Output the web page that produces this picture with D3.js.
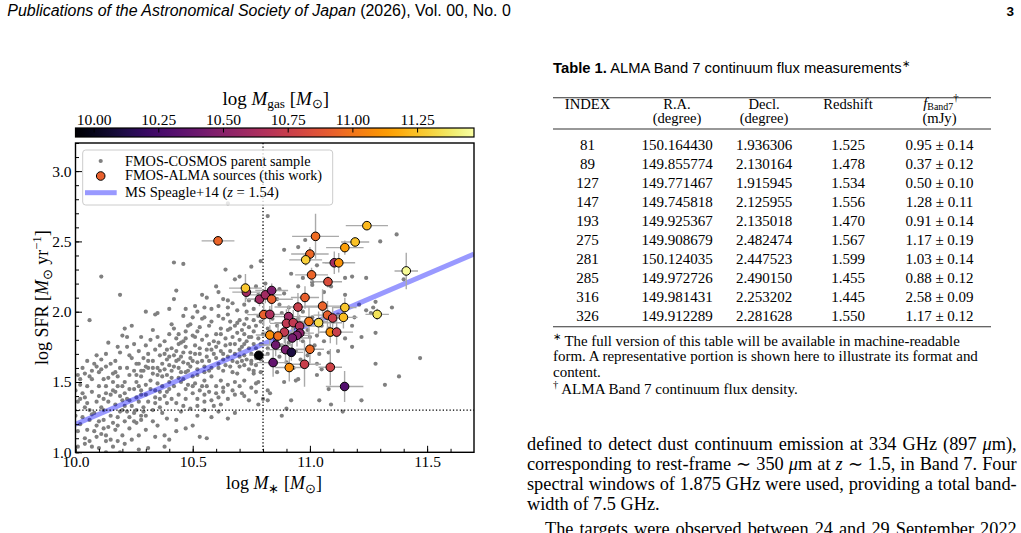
<!DOCTYPE html>
<html><head><meta charset="utf-8">
<script src="https://cdn.jsdelivr.net/npm/d3@7"></script>
<style>html,body{margin:0;padding:0;background:#fff;} svg{display:block;}</style>
</head><body>
<svg id="page" width="1021" height="533"></svg>
<script>
// ---------------- DATA ----------------
const massDomain = [10.0, 11.7];
const sfrDomain = [1.0, 3.2];
const gasDomain = [9.93, 11.47];
const massTicks = [10.0, 10.5, 11.0, 11.5];
const sfrTicks = [1.0, 1.5, 2.0, 2.5, 3.0];
const gasTicks = [10.00, 10.25, 10.50, 10.75, 11.00, 11.25];
const cutMass = [10.8];
const cutSFR = [1.3];
// Speagle+14 main sequence (z = 1.54), endpoints
const msMass = [10.0, 11.7];
const msSFR = [1.20, 2.41];

// FMOS-COSMOS parent sample [log M*, log SFR]
const parentSample = [
[10.06,1.94],[10.34,1.98],[10.46,1.97],[10.52,2.00],[10.41,1.91],[10.49,1.91],[10.54,1.95],[10.57,1.90],[10.61,1.97],[10.65,1.98],[10.66,1.93],[10.68,1.90],[10.70,1.94],[10.72,1.91],[10.74,1.89],[10.76,1.94],[10.78,1.97],[10.76,1.86],[10.72,1.84],[10.69,1.85],[10.65,1.87],[10.62,1.88],[10.60,1.84],[10.56,1.83],[10.52,1.86],[10.50,1.83],[10.47,1.81],[10.44,1.84],[10.40,1.84],[10.35,1.82],[10.33,1.87],[10.32,1.80],[10.28,1.82],[10.24,1.90],[10.21,1.88],[10.20,1.83],[10.25,1.77],[10.22,1.75],[10.14,1.78],[10.13,1.70],[10.19,1.71],[10.17,1.65],[10.13,1.61],[10.08,1.63],[10.04,1.56],[10.01,1.55],[10.06,1.54],[10.10,1.57],[10.12,1.52],[10.16,1.56],[10.18,1.54],[10.21,1.50],[10.23,1.55],[10.25,1.58],[10.27,1.63],[10.29,1.67],[10.31,1.70],[10.34,1.73],[10.36,1.76],[10.38,1.70],[10.41,1.74],[10.44,1.77],[10.47,1.75],[10.49,1.71],[10.51,1.76],[10.54,1.80],[10.57,1.77],[10.58,1.73],[10.61,1.78],[10.64,1.81],[10.67,1.82],[10.70,1.80],[10.72,1.77],[10.74,1.74],[10.76,1.77],[10.78,1.81],[10.80,1.84],[10.82,1.88],[10.72,1.69],[10.70,1.68],[10.67,1.65],[10.63,1.70],[10.60,1.67],[10.57,1.65],[10.55,1.61],[10.52,1.64],[10.48,1.63],[10.45,1.68],[10.43,1.65],[10.40,1.62],[10.37,1.63],[10.35,1.60],[10.33,1.56],[10.30,1.61],[10.28,1.54],[10.26,1.50],[10.23,1.45],[10.21,1.42],[10.18,1.47],[10.16,1.44],[10.13,1.42],[10.10,1.47],[10.07,1.43],[10.04,1.39],[10.02,1.48],[10.00,1.44],[10.01,1.36],[10.04,1.32],[10.06,1.30],[10.09,1.36],[10.11,1.32],[10.14,1.36],[10.17,1.34],[10.20,1.30],[10.23,1.37],[10.26,1.39],[10.28,1.44],[10.30,1.48],[10.32,1.51],[10.35,1.49],[10.37,1.54],[10.39,1.55],[10.41,1.58],[10.44,1.60],[10.47,1.57],[10.50,1.54],[10.52,1.55],[10.55,1.51],[10.58,1.54],[10.61,1.60],[10.64,1.62],[10.67,1.57],[10.70,1.61],[10.72,1.62],[10.75,1.65],[10.78,1.70],[10.82,1.74],[10.76,1.56],[10.72,1.51],[10.68,1.50],[10.65,1.48],[10.62,1.51],[10.60,1.47],[10.57,1.43],[10.54,1.47],[10.51,1.49],[10.48,1.48],[10.45,1.50],[10.42,1.47],[10.39,1.43],[10.36,1.43],[10.34,1.39],[10.31,1.36],[10.29,1.32],[10.26,1.30],[10.23,1.25],[10.21,1.22],[10.18,1.25],[10.15,1.26],[10.12,1.23],[10.09,1.19],[10.06,1.23],[10.03,1.25],[10.00,1.26],[10.01,1.15],[10.05,1.16],[10.09,1.11],[10.11,1.13],[10.14,1.18],[10.17,1.16],[10.20,1.12],[10.23,1.17],[10.26,1.21],[10.28,1.23],[10.30,1.26],[10.33,1.30],[10.36,1.32],[10.39,1.35],[10.41,1.38],[10.44,1.41],[10.47,1.38],[10.50,1.42],[10.52,1.38],[10.55,1.41],[10.58,1.37],[10.61,1.39],[10.63,1.43],[10.65,1.38],[10.68,1.41],[10.71,1.42],[10.74,1.37],[10.77,1.43],[10.80,1.38],[10.82,1.44],[10.45,1.29],[10.49,1.31],[10.52,1.26],[10.55,1.30],[10.58,1.25],[10.61,1.29],[10.65,1.24],[10.68,1.28],[10.43,1.23],[10.39,1.24],[10.35,1.19],[10.33,1.22],[10.30,1.16],[10.27,1.12],[10.24,1.09],[10.21,1.06],[10.18,1.08],[10.16,1.04],[10.13,1.08],[10.10,1.03],[10.07,1.04],[10.04,1.06],[10.01,1.04],[10.34,1.11],[10.38,1.12],[10.40,1.09],[10.43,1.15],[10.47,1.17],[10.50,1.19],[10.53,1.11],[10.56,1.10],[10.38,1.04],[10.31,1.03],[10.27,1.02],[10.13,1.00],[10.19,1.00],
[10.55,1.96],[10.58,1.93],[10.63,1.95],[10.66,1.88],[10.69,1.92],[10.71,1.87],[10.73,1.95],[10.75,1.82],[10.77,1.90],[10.79,1.93],[10.62,1.84],[10.64,1.76],[10.66,1.72],[10.68,1.77],[10.70,1.73],[10.73,1.79],[10.75,1.70],[10.77,1.74],[10.79,1.66],[10.53,1.89],[10.51,1.82],[10.47,1.86],[10.45,1.78],[10.43,1.81],[10.46,1.71],[10.49,1.67],[10.53,1.70],[10.56,1.73],[10.59,1.70],[10.61,1.63],[10.63,1.58],[10.66,1.61],[10.69,1.56],[10.71,1.65],[10.74,1.59],[10.77,1.62],[10.79,1.57],[10.58,1.60],[10.55,1.57],[10.52,1.59],[10.46,1.64],[10.42,1.69],[10.39,1.66],[10.36,1.69],[10.33,1.65],[10.31,1.60],[10.28,1.58],[10.26,1.63],[10.24,1.67],[10.22,1.60],[10.38,1.59],[10.35,1.55],[10.40,1.50],[10.44,1.53],[10.47,1.45],[10.50,1.47],[10.53,1.44],[10.56,1.47],[10.60,1.42],[10.63,1.46],[10.67,1.44],[10.70,1.47],[10.72,1.40],[10.75,1.46],[10.78,1.50],[10.25,1.45],[10.28,1.41],[10.22,1.38],[10.19,1.40],[10.16,1.50],[10.13,1.47],[10.10,1.40],[10.07,1.52],[10.05,1.47],[10.02,1.38],[10.03,1.60],[10.05,1.65],[10.09,1.69],[10.11,1.59],[10.15,1.63],[10.17,1.57],[10.19,1.60],[10.12,1.30],[10.08,1.28],[10.21,1.33],[10.25,1.28],[10.28,1.26],[10.34,1.35],[10.37,1.28],[10.43,1.35],[10.46,1.33],[10.52,1.33],[10.55,1.36],[10.59,1.33],[10.62,1.34],
[10.02,1.52],[10.03,1.42],[10.05,1.35],[10.07,1.27],[10.02,1.20],[10.04,1.10],[10.06,1.08],[10.08,1.15],[10.10,1.22],[10.12,1.17],[10.13,1.12],[10.15,1.09],[10.16,1.21],[10.18,1.19],[10.19,1.29],[10.20,1.37],[10.22,1.29],[10.24,1.33],[10.25,1.22],[10.27,1.36],[10.29,1.29],[10.30,1.41],[10.32,1.45],[10.34,1.44],[10.36,1.38],[10.37,1.47],[10.38,1.40],[10.40,1.45],[10.41,1.53],[10.42,1.61],[10.44,1.66],[10.45,1.57],[10.46,1.52],[10.48,1.58],[10.49,1.61],[10.50,1.65],[10.51,1.70],[10.53,1.74],[10.54,1.65],[10.56,1.68],[10.57,1.58],[10.59,1.79],[10.60,1.75],[10.62,1.72],[10.63,1.66],[10.65,1.68],[10.66,1.77],[10.68,1.70],[10.69,1.64],[10.71,1.75],[10.73,1.66],[10.74,1.82],[10.77,1.67],[10.79,1.77],[10.09,1.61],[10.11,1.66],[10.07,1.58],[10.14,1.53],[10.15,1.41],[10.12,1.38],[10.17,1.43],[10.20,1.47],[10.26,1.55],[10.27,1.47],[10.29,1.58],[10.31,1.65],[10.33,1.60],[10.36,1.58],[10.39,1.73],[10.40,1.68],[10.43,1.72],[10.46,1.79],[10.48,1.90],[10.42,1.88],[10.38,1.79],[10.30,1.76],[10.27,1.72],[10.23,1.69],[10.18,1.75],[10.22,1.82],
[10.11,2.25],[10.19,2.12],[10.42,2.35],[10.46,2.34],[10.64,2.30],[10.75,2.32],[10.79,2.36],[10.43,2.15],[10.42,2.09],[10.54,2.12],[10.56,2.10],[10.61,2.14],[10.63,2.09],[10.65,2.08],[10.68,2.23],[10.70,2.25],[10.61,2.04],[10.51,2.04],[10.55,2.03],[10.35,1.99],[10.50,1.96],[10.65,2.03],[10.67,2.06],[10.65,2.77],[10.82,2.68],[10.69,2.01],[10.72,2.05],[10.74,2.08],[10.76,2.02],[10.78,2.12],[10.77,2.18],[10.58,2.02],[10.47,2.02],[10.40,2.02],[10.30,2.00],[10.60,2.18],[10.77,2.08],[10.73,2.00],
[10.89,2.44],[10.95,2.46],[10.98,2.51],[11.03,2.33],[11.37,2.55],[11.30,2.50],[11.15,2.24],[11.18,2.25],[11.24,2.24],[10.97,2.24],[11.01,2.21],[11.01,2.19],[10.87,2.16],[10.89,2.13],[11.06,2.14],[11.15,2.12],[10.87,2.05],[11.21,2.05],[11.24,2.01],[11.26,1.99],[11.27,2.03],[11.28,2.07],[11.35,2.03],[11.19,1.96],[11.22,1.82],[11.28,1.85],[11.15,1.81],[11.28,1.63],[11.47,1.67],[11.38,1.54],[11.32,1.48],[11.04,1.70],[11.08,1.71],[11.03,1.63],[10.95,1.52],[11.03,1.55],[11.08,1.45],[10.89,1.50],[10.83,1.42],[10.77,1.49],[11.22,1.37],[11.09,1.34],[11.14,1.29],[11.04,1.37],[10.92,1.37],[10.90,1.31],[10.88,1.26],[10.82,1.37],[10.78,1.34],[10.94,1.51],[10.86,1.57],[11.05,1.59],[11.18,1.75],[11.18,1.90],[10.76,1.58],[10.75,1.63],[11.40,2.23],
[10.84,1.95],[10.86,1.90],[10.88,1.99],[10.91,2.03],[10.93,1.88],[10.95,1.95],[10.97,2.00],[10.99,1.87],[11.01,1.96],[11.03,1.83],[11.05,1.90],[10.85,1.80],[10.88,1.76],[10.91,1.78],[10.94,1.72],[10.97,1.79],[11.00,1.82],[11.02,1.76],[11.06,1.79],[11.10,1.93],[11.12,1.98],[10.83,1.86],[10.82,1.70],[10.84,1.66],[10.87,1.68],[10.90,1.64],[10.93,1.60],[10.96,1.66],[10.99,1.69],[11.08,1.88],[11.12,1.72],[10.81,2.00],[10.86,2.09],[10.95,2.18],[11.09,2.18],[10.92,2.27],[10.81,2.20]
];

// FMOS-ALMA sources (this work)
const almaMass = [10.608,10.729,10.725,10.785,10.810,10.837,10.837,10.803,10.829,11.024,11.243,11.193,11.149,11.000,10.982,11.104,11.123,11.411,11.007,11.077,10.979,10.949,11.054,11.149,11.075,11.097,11.143,11.287,10.909,10.900,10.929,10.996,11.037,10.956,10.891,10.957,10.945,10.925,10.829,10.864,11.087,11.114,10.854,10.896,10.921,11.000,10.782,10.843,10.912,10.977,11.087,11.148];
const almaSFR = [2.504,2.139,2.168,2.089,2.120,2.151,2.089,1.979,1.981,2.536,2.612,2.496,2.456,2.410,2.369,2.348,2.348,2.290,2.262,2.213,2.101,2.033,2.040,2.030,1.976,1.955,1.960,1.981,1.965,1.917,1.922,1.931,1.922,1.898,1.855,1.848,1.832,1.813,1.834,1.827,1.855,1.855,1.763,1.730,1.711,1.733,1.690,1.638,1.603,1.626,1.605,1.468];
const almaGas = [10.94,10.60,11.27,10.60,10.60,10.47,10.92,10.92,10.64,10.97,11.22,11.25,11.14,10.95,11.29,10.62,11.10,11.44,10.94,10.84,10.92,10.76,10.93,11.27,10.92,10.76,11.24,11.35,10.58,10.72,10.72,11.02,11.32,10.66,10.72,10.52,10.48,10.44,11.09,10.98,11.10,10.76,10.40,10.44,10.10,10.96,9.93,10.36,11.09,10.76,10.78,10.30];
const almaMassErr = [0.07,0.06,0.07,0.05,0.07,0.07,0.09,0.07,0.07,0.10,0.09,0.06,0.08,0.08,0.07,0.04,0.07,0.05,0.07,0.06,0.06,0.10,0.08,0.05,0.06,0.05,0.06,0.05,0.08,0.07,0.08,0.08,0.10,0.07,0.09,0.06,0.06,0.07,0.06,0.06,0.05,0.07,0.07,0.08,0.05,0.06,0.04,0.07,0.06,0.07,0.05,0.08];
const almaSFRErr = [0.01,0.05,0.10,0.05,0.06,0.05,0.08,0.08,0.06,0.16,0.03,0.03,0.05,0.05,0.04,0.08,0.07,0.13,0.05,0.04,0.08,0.10,0.12,0.07,0.10,0.08,0.08,0.04,0.08,0.10,0.09,0.10,0.08,0.08,0.08,0.06,0.08,0.09,0.07,0.08,0.08,0.09,0.08,0.10,0.06,0.10,0.02,0.10,0.10,0.16,0.13,0.11];

const legendLabels = ["FMOS-COSMOS parent sample", "FMOS-ALMA sources (this work)", "MS Speagle+14"];

// Table 1
const tblIndex = [81, 89, 127, 147, 193, 275, 281, 285, 316, 326];
const tblRA = ["150.164430","149.855774","149.771467","149.745818","149.925367","149.908679","150.124035","149.972726","149.981431","149.912289"];
const tblDec = ["1.936306","2.130164","1.915945","2.125955","2.135018","2.482474","2.447523","2.490150","2.253202","2.281628"];
const tblZ = ["1.525","1.478","1.534","1.556","1.470","1.567","1.599","1.455","1.445","1.550"];
const tblFlux = [0.95, 0.37, 0.50, 1.28, 0.91, 1.17, 1.03, 0.88, 2.58, 1.17];
const tblFluxErr = [0.14, 0.12, 0.10, 0.11, 0.14, 0.19, 0.14, 0.12, 0.09, 0.12];

// ---------------- DRAWING ----------------
const SERIF = "'Liberation Serif','Times New Roman',serif";
const SANS = "'Liberation Sans',Arial,Helvetica,sans-serif";
const svg = d3.select('#page');

function richText(parent, parts, o) {
  const make = (size) => {
    const t = parent.append('text').attr('x', o.x || 0).attr('y', o.y || 0)
      .attr('font-family', o.family || SERIF).attr('font-size', size)
      .attr('text-anchor', o.anchor || 'start').attr('fill', '#000');
    if (o.weight) t.attr('font-weight', o.weight);
    if (o.transform) t.attr('transform', o.transform);
    let cur = 0;
    parts.forEach(p => {
      const s = t.append('tspan').text(p.t);
      if (p.i) s.attr('font-style', 'italic');
      if (p.b) s.attr('font-weight', 'bold');
      const shift = p.sub ? (p.drop || 0.22) * size : (p.sup ? -(p.rise || 0.38) * size : 0);
      s.attr('font-size', (p.sub || p.sup) ? size * (p.scale || 0.7) : size);
      if (shift !== cur) { s.attr('dy', shift - cur); cur = shift; }
    });
    return t;
  };
  let t = make(o.size);
  if (o.width) {
    const w = t.node().getComputedTextLength();
    const s2 = o.size * o.width / w;
    t.remove(); t = make(s2);
  }
  if (o.justify) {
    const w = t.node().getComputedTextLength();
    const n = parts.map(p => p.t).join('').split(' ').length - 1;
    if (n > 0) t.attr('word-spacing', (o.justify - w) / n);
  }
  return t;
}

// ---- page header ----
richText(svg, [{t: 'Publications of the Astronomical Society of Japan', i: true}, {t: ' (2026), Vol. 00, No. 0'}],
  {x: 7.3, y: 16, size: 13, family: SANS, width: 504});
svg.append('text').attr('x', 1014).attr('y', 16).attr('text-anchor', 'end')
  .attr('font-family', SANS).attr('font-weight', 'bold').attr('font-size', 13.5).text('3');

// ---- chart ----
const P = {left: 75.5, right: 474, top: 143, bottom: 452.3};
const x = d3.scaleLinear().domain(massDomain).range([P.left, P.right]);
const y = d3.scaleLinear().domain(sfrDomain).range([P.bottom, P.top]);
const color = d3.scaleSequential(d3.interpolateInferno).domain(gasDomain);

const defs = svg.append('defs');
defs.append('clipPath').attr('id', 'plotclip').append('rect')
  .attr('x', P.left).attr('y', P.top).attr('width', P.right - P.left).attr('height', P.bottom - P.top);

const gp = svg.append('g').attr('clip-path', 'url(#plotclip)');

// parent sample
gp.selectAll('circle.parent').data(parentSample).join('circle').attr('class', 'parent')
  .attr('cx', d => x(d[0])).attr('cy', d => y(d[1])).attr('r', 2.1).attr('fill', '#808080');

// main sequence line
gp.append('path').datum(d3.range(msMass.length))
  .attr('d', d3.line().x(i => x(msMass[i])).y(i => y(msSFR[i])))
  .attr('stroke', 'blue').attr('stroke-opacity', 0.4).attr('stroke-width', 5).attr('fill', 'none');

// cut lines
gp.selectAll('line.vcut').data(cutMass).join('line').attr('class', 'vcut')
  .attr('x1', d => x(d)).attr('x2', d => x(d)).attr('y1', P.top).attr('y2', P.bottom)
  .attr('stroke', '#000').attr('stroke-width', 1.3).attr('stroke-dasharray', '1.3,2.1');
gp.selectAll('line.hcut').data(cutSFR).join('line').attr('class', 'hcut')
  .attr('y1', d => y(d)).attr('y2', d => y(d)).attr('x1', P.left).attr('x2', P.right)
  .attr('stroke', '#000').attr('stroke-width', 1.3).attr('stroke-dasharray', '1.3,2.1');

// error bars
const idx = d3.range(almaMass.length);
const eb = gp.append('g').attr('stroke', '#aaaaaa').attr('stroke-width', 1.4);
eb.selectAll('line.xe').data(idx).join('line')
  .attr('x1', i => x(almaMass[i] - almaMassErr[i])).attr('x2', i => x(almaMass[i] + almaMassErr[i]))
  .attr('y1', i => y(almaSFR[i])).attr('y2', i => y(almaSFR[i]));
eb.selectAll('line.ye').data(idx).join('line')
  .attr('x1', i => x(almaMass[i])).attr('x2', i => x(almaMass[i]))
  .attr('y1', i => y(almaSFR[i] - almaSFRErr[i])).attr('y2', i => y(almaSFR[i] + almaSFRErr[i]));

// ALMA points
gp.selectAll('circle.alma').data(idx).join('circle').attr('class', 'alma')
  .attr('cx', i => x(almaMass[i])).attr('cy', i => y(almaSFR[i])).attr('r', 4.3)
  .attr('fill', i => color(almaGas[i])).attr('stroke', '#000').attr('stroke-width', 1);

// axes
function styleAxis(g, fs) {
  g.select('.domain').remove();
  g.selectAll('line').attr('stroke', '#000').attr('stroke-width', 1);
  g.selectAll('text').attr('font-family', SERIF).attr('font-size', fs).attr('fill', '#000');
}
const minorMass = d3.range(100, 117).map(v => v / 10);
const minorSFR = d3.range(10, 33).map(v => v / 10);
svg.append('g').attr('transform', `translate(0,${P.bottom})`)
  .call(d3.axisBottom(x).tickValues(minorMass).tickFormat('').tickSize(-3.5)).call(g => styleAxis(g, 15));
svg.append('g').attr('transform', `translate(0,${P.bottom})`)
  .call(d3.axisBottom(x).tickValues(massTicks).tickFormat(d3.format('.1f')).tickSize(-6.5).tickPadding(4))
  .call(g => styleAxis(g, 15.5));
svg.append('g').attr('transform', `translate(${P.left},0)`)
  .call(d3.axisLeft(y).tickValues(minorSFR).tickFormat('').tickSize(-3.5)).call(g => styleAxis(g, 15));
svg.append('g').attr('transform', `translate(${P.left},0)`)
  .call(d3.axisLeft(y).tickValues(sfrTicks).tickFormat(d3.format('.1f')).tickSize(-6.5).tickPadding(4))
  .call(g => styleAxis(g, 15.5));

// frame
svg.append('rect').attr('x', P.left).attr('y', P.top).attr('width', P.right - P.left).attr('height', P.bottom - P.top)
  .attr('fill', 'none').attr('stroke', '#000').attr('stroke-width', 1.4);

// axis labels
const xl = richText(svg, [{t: 'log '}, {t: 'M', i: true}, {t: '∗', sub: true}, {t: ' ['}, {t: 'M', i: true}, {t: '⊙', sub: true}, {t: ']'}],
  {x: 274, y: 489, size: 17, anchor: 'middle', width: 95});
const labelSize = +xl.attr('font-size');
richText(svg, [{t: 'log SFR ['}, {t: 'M', i: true}, {t: '⊙', sub: true}, {t: ' yr'}, {t: '−1', sup: true}, {t: ']'}],
  {x: 0, y: 0, size: labelSize, anchor: 'middle', transform: `translate(48,${(P.top + P.bottom) / 2}) rotate(-90)`});

// legend
const L = {x: 82.7, y: 150, w: 250, h: 55};
const lg = svg.append('g');
lg.append('rect').attr('x', L.x).attr('y', L.y).attr('width', L.w).attr('height', L.h).attr('rx', 3)
  .attr('fill', '#fff').attr('fill-opacity', 0.8).attr('stroke', '#cccccc').attr('stroke-width', 1);
lg.append('circle').attr('cx', 100.7).attr('cy', 161).attr('r', 2.1).attr('fill', '#808080');
lg.append('circle').attr('cx', 100.7).attr('cy', 176).attr('r', 4.3).attr('fill', color(10.92)).attr('stroke', '#000');
lg.append('line').attr('x1', 85).attr('x2', 116.7).attr('y1', 192.7).attr('y2', 192.7)
  .attr('stroke', 'blue').attr('stroke-opacity', 0.4).attr('stroke-width', 5);
richText(lg, [{t: legendLabels[0]}], {x: 125, y: 165.5, size: 14, width: 185.7});
richText(lg, [{t: legendLabels[1]}], {x: 125, y: 180.3, size: 14, width: 197.3});
richText(lg, [{t: legendLabels[2] + ' ('}, {t: 'z', i: true}, {t: ' = 1.54)'}], {x: 125, y: 196.5, size: 14, width: 154});

// colorbar
const CB = {left: 75.5, right: 474, top: 128, bottom: 137};
const cbx = d3.scaleLinear().domain(gasDomain).range([CB.left, CB.right]);
const grad = defs.append('linearGradient').attr('id', 'cbgrad').attr('x1', 0).attr('x2', 1).attr('y1', 0).attr('y2', 0);
d3.range(0, 51).forEach(k => {
  const v = gasDomain[0] + (gasDomain[1] - gasDomain[0]) * k / 50;
  grad.append('stop').attr('offset', k / 50).attr('stop-color', color(v));
});
svg.append('rect').attr('x', CB.left).attr('y', CB.top).attr('width', CB.right - CB.left).attr('height', CB.bottom - CB.top)
  .attr('fill', 'url(#cbgrad)');
svg.append('g').attr('transform', `translate(0,${CB.top})`)
  .call(d3.axisTop(cbx).tickValues(gasTicks).tickFormat(d3.format('.2f')).tickSize(-4.5).tickPadding(3.5))
  .call(g => styleAxis(g, 15.5));
svg.append('rect').attr('x', CB.left).attr('y', CB.top).attr('width', CB.right - CB.left).attr('height', CB.bottom - CB.top)
  .attr('fill', 'none').attr('stroke', '#000').attr('stroke-width', 1.2);
richText(svg, [{t: 'log '}, {t: 'M', i: true}, {t: 'gas', sub: true, drop: 0.17}, {t: ' ['}, {t: 'M', i: true}, {t: '⊙', sub: true, drop: 0.17}, {t: ']'}],
  {x: 275.8, y: 105, size: 17, anchor: 'middle', width: 107});

// ---- Table ----
richText(svg, [{t: 'Table 1.', b: true}, {t: ' ALMA Band 7 continuum flux measurements'}, {t: '∗', sup: true}],
  {x: 553, y: 72.5, size: 13, family: SANS, width: 358});
const T = {left: 553, right: 991};
[97.7, 129, 326.7].forEach(yy => svg.append('line').attr('x1', T.left).attr('x2', T.right).attr('y1', yy).attr('y2', yy)
  .attr('stroke', '#333').attr('stroke-width', 1.1));
const colX = [587.5, 677, 764, 848, 939.5];
const tfs = 14.6;
const th = svg.append('g').attr('font-family', SERIF).attr('font-size', tfs).attr('text-anchor', 'middle');
['INDEX', 'R.A.', 'Decl.', 'Redshift'].forEach((s, k) => th.append('text').attr('x', colX[k]).attr('y', 108.5).text(s));
richText(svg, [{t: 'f', i: true}, {t: 'Band7', sub: true, drop: 0.14, scale: 0.68}, {t: '†', sup: true, scale: 0.75, rise: 0.45}],
  {x: colX[4] + 1.5, y: 107.5, size: tfs, anchor: 'middle'});
th.append('text').attr('x', colX[1]).attr('y', 123).text('(degree)');
th.append('text').attr('x', colX[2]).attr('y', 123).text('(degree)');
th.append('text').attr('x', colX[4]).attr('y', 123).text('(mJy)');
const rowY = i => 149.5 + 19 * i;
const tb = svg.append('g').attr('font-family', SERIF).attr('font-size', 15).attr('text-anchor', 'middle');
tblIndex.forEach((v, i) => {
  tb.append('text').attr('x', colX[0]).attr('y', rowY(i)).text(v);
  tb.append('text').attr('x', colX[1]).attr('y', rowY(i)).text(tblRA[i]);
  tb.append('text').attr('x', colX[2]).attr('y', rowY(i)).text(tblDec[i]);
  tb.append('text').attr('x', colX[3]).attr('y', rowY(i)).text(tblZ[i]);
  tb.append('text').attr('x', colX[4]).attr('y', rowY(i)).text(tblFlux[i].toFixed(2) + ' ± ' + tblFluxErr[i].toFixed(2));
});
// footnotes
richText(svg, [{t: '∗', sup: true}, {t: ' The full version of this table will be available in machine-readable'}], {x: 553, y: 346, size: 13, width: 408});
const fn2 = richText(svg, [{t: 'form. A representative portion is shown here to illustrate its format and'}], {x: 553, y: 361, size: 13, width: 425});
const fnSize = +fn2.attr('font-size');
richText(svg, [{t: 'content.'}], {x: 553, y: 376.5, size: fnSize});
richText(svg, [{t: '†', sup: true}, {t: ' ALMA Band 7 continuum flux density.'}], {x: 553, y: 394, size: 13, width: 245});

// ---- body text ----
const l4 = richText(svg, [{t: 'width of 7.5 GHz.'}], {x: 527, y: 510, size: 17, width: 132.7});
const bfs = +l4.attr('font-size');
const R = 1016.7;
richText(svg, [{t: 'defined to detect dust continuum emission at 334 GHz (897 '}, {t: 'μ', i: true}, {t: 'm),'}],
  {x: 527, y: 450, size: bfs, justify: R - 527});
richText(svg, [{t: 'corresponding to rest-frame ∼ 350 '}, {t: 'μ', i: true}, {t: 'm at '}, {t: 'z', i: true}, {t: ' ∼ 1.5, in Band 7. Four'}],
  {x: 527, y: 470, size: bfs, justify: R - 527});
richText(svg, [{t: 'spectral windows of 1.875 GHz were used, providing a total band-'}],
  {x: 527, y: 490, size: bfs, justify: R - 527});
richText(svg, [{t: 'The targets were observed between 24 and 29 September 2022'}],
  {x: 545, y: 534.5, size: bfs, justify: R - 545});
</script>
</body></html>
